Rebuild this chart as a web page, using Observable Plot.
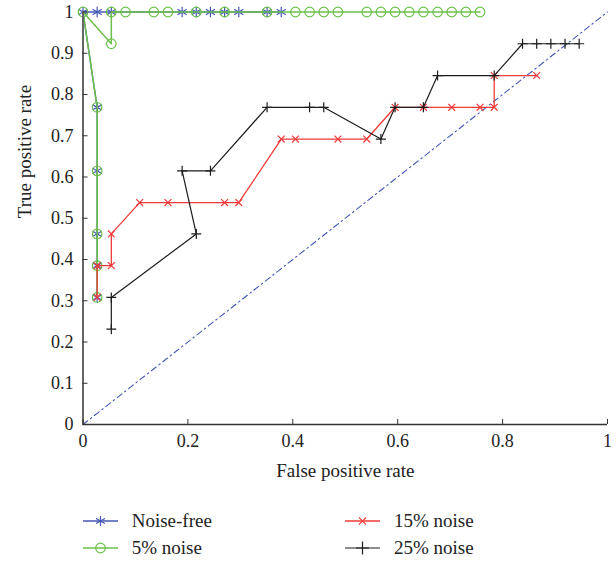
<!DOCTYPE html>
<html>
<head>
<meta charset="utf-8">
<script src="https://cdn.jsdelivr.net/npm/d3@7"></script>
<script src="https://cdn.jsdelivr.net/npm/@observablehq/plot@0.6"></script>
<style>
  body { margin: 0; background: white; font-family: "Liberation Serif", "Times New Roman", Times, Tinos, "Noto Serif", "DejaVu Serif", serif; }
  #legend { position: relative; width: 616px; height: 71px; }
  .item { position: absolute; display: flex; align-items: center; height: 24px; font-size: 19px; color: #222; }
  .item svg { margin-right: 14px; }
  svg text { font-family: "Liberation Serif", "Times New Roman", Times, Tinos, "Noto Serif", "DejaVu Serif", serif; }
</style>
</head>
<body>
<div id="chart"></div>
<div id="legend"></div>
<script>
// ---- Data (FPR on x, TPR on y) ----
const seriesNames = ["Noise-free", "5% noise", "15% noise", "25% noise"];
const seriesColors = ["#4357b5", "#6cc04a", "#f03a3a", "#1c1c1c"];

const noiseFreeFPR = [0.027, 0.027, 0.027, 0.027, 0.027, 0, 0.027, 0.054, 0.189, 0.216, 0.243, 0.270, 0.297, 0.351, 0.378];
const noiseFreeTPR = [0.308, 0.385, 0.462, 0.615, 0.769, 1, 1, 1, 1, 1, 1, 1, 1, 1, 1];

const noise5FPR = [0.027, 0.027, 0.027, 0.027, 0.027, 0, 0.054, 0.054, 0.081, 0.135, 0.162, 0.216, 0.270, 0.351,
  0.405, 0.432, 0.459, 0.486, 0.541, 0.568, 0.595, 0.622, 0.649, 0.676, 0.703, 0.730, 0.757];
const noise5TPR = [0.308, 0.385, 0.462, 0.615, 0.769, 1, 0.923, 1, 1, 1, 1, 1, 1, 1,
  1, 1, 1, 1, 1, 1, 1, 1, 1, 1, 1, 1, 1];

const noise15FPR = [0.027, 0.027, 0.054, 0.054, 0.108, 0.162, 0.270, 0.297, 0.378, 0.405, 0.486, 0.541,
  0.595, 0.649, 0.703, 0.757, 0.784, 0.784, 0.865];
const noise15TPR = [0.308, 0.385, 0.385, 0.462, 0.538, 0.538, 0.538, 0.538, 0.692, 0.692, 0.692, 0.692,
  0.769, 0.769, 0.769, 0.769, 0.769, 0.846, 0.846];

const noise25FPR = [0.054, 0.054, 0.216, 0.189, 0.243, 0.351, 0.432, 0.459, 0.568, 0.595, 0.649, 0.676,
  0.784, 0.838, 0.865, 0.892, 0.919, 0.946];
const noise25TPR = [0.231, 0.308, 0.462, 0.615, 0.615, 0.769, 0.769, 0.769, 0.692, 0.769, 0.769, 0.846,
  0.846, 0.923, 0.923, 0.923, 0.923, 0.923];

const diagonal = [0, 1];

const xTicks = [0, 0.2, 0.4, 0.6, 0.8, 1];
const xTickLabels = ["0", "0.2", "0.4", "0.6", "0.8", "1"];
const yTicks = [0, 0.1, 0.2, 0.3, 0.4, 0.5, 0.6, 0.7, 0.8, 0.9, 1];
const yTickLabels = ["0", "0.1", "0.2", "0.3", "0.4", "0.5", "0.6", "0.7", "0.8", "0.9", "1"];
const xLabel = "False positive rate";
const yLabel = "True positive rate";

// ---- Build rows ----
const rows = (fpr, tpr) => fpr.map((x, i) => ({x, y: tpr[i]}));
const dataNF = rows(noiseFreeFPR, noiseFreeTPR);
const data5 = rows(noise5FPR, noise5TPR);
const data15 = rows(noise15FPR, noise15TPR);
const data25 = rows(noise25FPR, noise25TPR);

const symbols = ["asterisk", "circle", "times", "plus"];
const radii = [5, 4.8, 3.2, 3.3];
const legendRadii = [4.8, 4.8, 3.4, 4.2];
const datasets = [dataNF, data5, data15, data25];
const lineWidths = [1.4, 1.5, 1.3, 1.2];

const seriesMarks = [];
datasets.forEach((d, i) => {
  seriesMarks.push(Plot.line(d, {x: "x", y: "y", stroke: seriesColors[i], strokeWidth: lineWidths[i]}));
  seriesMarks.push(Plot.dot(d, {x: "x", y: "y", symbol: () => symbols[i], r: radii[i], stroke: seriesColors[i], fill: "none", strokeWidth: 1.2}));
});

const FONT = '"Liberation Serif", "Times New Roman", Times, Tinos, "Noto Serif", "DejaVu Serif", serif';
const chart = Plot.plot({
  width: 616,
  height: 490,
  marginLeft: 82.5,
  marginRight: 9,
  marginTop: 11.5,
  marginBottom: 66,
  style: {fontFamily: FONT, fontSize: "18px", color: "#333", background: "white", overflow: "visible"},
  x: {domain: [0, 1]},
  y: {domain: [0, 1]},
  symbol: {type: "identity"},
  marks: [
    Plot.line(diagonal, {x: d => d, y: d => d, stroke: "#4357b5", strokeWidth: 1.1, strokeDasharray: "6,3.5,1.5,3.5"}),
    ...seriesMarks,
    Plot.ruleX([0], {stroke: "#666", strokeWidth: 2}),
    Plot.ruleY([0], {stroke: "#333", strokeWidth: 1.5}),
    Plot.axisX({ticks: xTicks, tickFormat: (d, i) => xTickLabels[i], tickSize: -5, tickPadding: 15, label: null, fill: "#222"}),
    Plot.axisY({ticks: yTicks, tickFormat: (d, i) => yTickLabels[i], tickSize: -5, tickPadding: 14.5, label: null, fill: "#222"}),
    Plot.text([xLabel], {text: d => d, frameAnchor: "bottom", dy: 52, fontSize: 19, fill: "#222"}),
    Plot.text([yLabel], {text: d => d, frameAnchor: "left", dx: -58, rotate: -90, fontSize: 19, fill: "#222"})
  ]
});
document.getElementById("chart").appendChild(chart);

// ---- Legend ----
const legend = document.getElementById("legend");
const legendPos = [[82.7, 31], [82.7, 58], [345, 31], [345, 58]];
seriesNames.forEach((name, i) => {
  const item = document.createElement("div");
  item.className = "item";
  item.style.left = legendPos[i][0] + "px";
  item.style.top = (legendPos[i][1] - 12) + "px";
  const ns = "http://www.w3.org/2000/svg";
  const svg = document.createElementNS(ns, "svg");
  svg.setAttribute("width", 35);
  svg.setAttribute("height", 24);
  const line = document.createElementNS(ns, "line");
  line.setAttribute("x1", 0); line.setAttribute("x2", 35);
  line.setAttribute("y1", 12); line.setAttribute("y2", 12);
  line.setAttribute("stroke", seriesColors[i]);
  line.setAttribute("stroke-width", lineWidths[i]);
  svg.appendChild(line);
  const symMap = {asterisk: d3.symbolAsterisk, circle: d3.symbolCircle, times: d3.symbolTimes, plus: d3.symbolPlus};
  const p = document.createElementNS(ns, "path");
  p.setAttribute("d", d3.symbol(symMap[symbols[i]], Math.PI * legendRadii[i] * legendRadii[i])());
  p.setAttribute("transform", "translate(17.5,12)");
  p.setAttribute("fill", "none");
  p.setAttribute("stroke", seriesColors[i]);
  p.setAttribute("stroke-width", 1.2);
  svg.appendChild(p);
  item.appendChild(svg);
  const span = document.createElement("span");
  span.textContent = name;
  item.appendChild(span);
  legend.appendChild(item);
});
</script>
</body>
</html>
